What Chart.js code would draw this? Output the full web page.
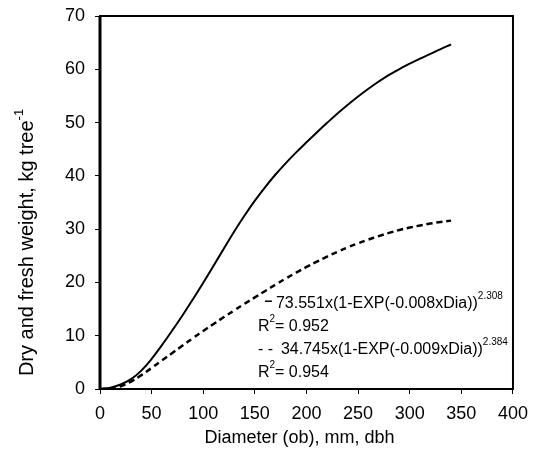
<!DOCTYPE html>
<html>
<head>
<meta charset="utf-8">
<script src="https://cdn.jsdelivr.net/npm/chart.js@4"></script>
<style>
  html, body { margin: 0; padding: 0; background: #fff; }
  #wrap { width: 537px; height: 459px; }
</style>
</head>
<body>
<div id="wrap"><canvas id="biomassChart"></canvas></div>
<script>
// diameter at breast height (mm) and fitted weights (kg per tree)
const diameters = [0, 10, 20, 30, 40, 50, 60, 70, 80, 90, 100, 110, 120, 130, 140, 150, 160,
  170, 180, 190, 200, 210, 220, 230, 240, 250, 260, 270, 280, 290, 300, 310, 320, 330, 340];
const freshWeight = [0, 0.25, 0.85, 1.85, 3.45, 5.65, 8.25, 11.0, 13.85, 16.85, 19.95, 23.15,
  26.35, 29.55, 32.55, 35.35, 37.9, 40.25, 42.4, 44.4, 46.3, 48.15, 49.95, 51.7, 53.35, 54.9,
  56.35, 57.7, 58.95, 60.05, 61.05, 62.0, 62.9, 63.8, 64.65];
const dryWeight = [0, 0.1, 0.5, 1.4, 2.6, 3.95, 5.35, 6.75, 8.15, 9.55, 10.9, 12.2, 13.5, 14.75,
  16.0, 17.2, 18.4, 19.6, 20.75, 21.85, 22.9, 23.9, 24.85, 25.75, 26.6, 27.35, 28.05, 28.7,
  29.3, 29.85, 30.3, 30.7, 31.05, 31.35, 31.6];

const xTitle = 'Diameter (ob), mm, dbh';
const yTitle = [['Dry and fresh weight, kg tree'], ['-1', true]];

// equation labels: [text, isSuperscript]
const freshEquation = [['73.551x(1-EXP(-0.008xDia))'], ['2.308', true]];
const freshR2 = [['R'], ['2', true], ['= 0.952']];
const dryEquation = [['34.745x(1-EXP(-0.009xDia))'], ['2.384', true]];
const dryR2 = [['R'], ['2', true], ['= 0.954']];

const FONT = '"Liberation Sans", Arial, sans-serif';

function toPoints(xs, ys) {
  return xs.map((x, i) => ({ x, y: ys[i] }));
}

// draws a run of text pieces, raising the superscript ones
function drawRich(ctx, x, y, parts, size, supSize, supRise) {
  ctx.textBaseline = 'middle';
  ctx.textAlign = 'left';
  let cx = x;
  parts.forEach(([text, sup]) => {
    ctx.font = (sup ? supSize : size) + 'px ' + FONT;
    ctx.fillText(text, cx, sup ? y - supRise : y);
    cx += ctx.measureText(text).width;
  });
  return cx - x;
}

function richWidth(ctx, parts, size, supSize) {
  return parts.reduce((w, [text, sup]) => {
    ctx.font = (sup ? supSize : size) + 'px ' + FONT;
    return w + ctx.measureText(text).width;
  }, 0);
}

const framePlugin = {
  id: 'frame',
  afterDraw(chart) {
    const { ctx, chartArea: a, scales } = chart;
    ctx.save();
    ctx.strokeStyle = '#000';
    ctx.lineWidth = 2;
    ctx.strokeRect(a.left, a.top, a.right - a.left, a.bottom - a.top);
    ctx.lineWidth = 3;
    ctx.beginPath();
    ctx.moveTo(a.left, a.top);
    ctx.lineTo(a.left, a.bottom + 1);
    ctx.stroke();

    ctx.fillStyle = '#000';
    // axis titles
    ctx.font = '18px ' + FONT;
    ctx.textAlign = 'center';
    ctx.textBaseline = 'middle';
    ctx.fillText(xTitle, (a.left + a.right) / 2 - 7, 438);

    const yw = richWidth(ctx, yTitle, 20, 13);
    ctx.save();
    ctx.translate(27, (a.top + a.bottom) / 2 + 40);
    ctx.rotate(-Math.PI / 2);
    drawRich(ctx, -yw / 2, 0, yTitle, 20, 13, 8);
    ctx.restore();

    // equation block
    const x0 = scales.x.getPixelForValue(153);
    const y0 = scales.y.getPixelForValue(16.1);
    const row = 23;

    ctx.lineWidth = 1.5;
    ctx.beginPath();
    ctx.moveTo(x0 + 7, y0 - 2);
    ctx.lineTo(x0 + 14, y0 - 2);
    ctx.stroke();
    drawRich(ctx, x0 + 18, y0, freshEquation, 16, 10, 7);
    drawRich(ctx, x0, y0 + row, freshR2, 16, 10, 7);
    drawRich(ctx, x0, y0 + row * 2, [['- - ']], 16, 10, 7);
    drawRich(ctx, x0 + 23, y0 + row * 2, dryEquation, 16, 10, 7);
    drawRich(ctx, x0, y0 + row * 3, dryR2, 16, 10, 7);
    ctx.restore();
  }
};

new Chart(document.getElementById('biomassChart'), {
  type: 'line',
  data: {
    datasets: [
      {
        label: 'Fresh weight',
        data: toPoints(diameters, freshWeight),
        borderColor: '#000',
        borderWidth: 2,
        pointRadius: 0,
        tension: 0.4,
        fill: false,
      },
      {
        label: 'Dry weight',
        data: toPoints(diameters, dryWeight),
        borderColor: '#000',
        borderWidth: 2.5,
        borderDash: [6, 4],
        pointRadius: 0,
        tension: 0.4,
        fill: false,
      },
    ],
  },
  options: {
    responsive: true,
    maintainAspectRatio: false,
    animation: false,
    layout: { padding: { top: 16, right: 24, left: 0, bottom: 0 } },
    plugins: {
      legend: { display: false },
      tooltip: { enabled: false },
    },
    scales: {
      x: {
        type: 'linear',
        min: 0,
        max: 400,
        ticks: { stepSize: 50, color: '#000', font: { family: FONT, size: 18 }, padding: 9, maxRotation: 0 },
        grid: { drawOnChartArea: false, drawTicks: true, tickLength: 5, color: '#000' },
        border: { display: false },
        afterFit: (s) => { s.height = 70; },
      },
      y: {
        min: 0,
        max: 70,
        ticks: { stepSize: 10, color: '#000', font: { family: FONT, size: 18 }, padding: 10 },
        grid: { drawOnChartArea: false, drawTicks: true, tickLength: 5, color: '#000' },
        border: { display: false },
        afterFit: (s) => {
          s.width = 100;
          // let the top label overhang instead of pushing the plot down
          s.paddingTop = 0;
          s.paddingBottom = 0;
        },
      },
    },
  },
  plugins: [framePlugin],
});
</script>
</body>
</html>
